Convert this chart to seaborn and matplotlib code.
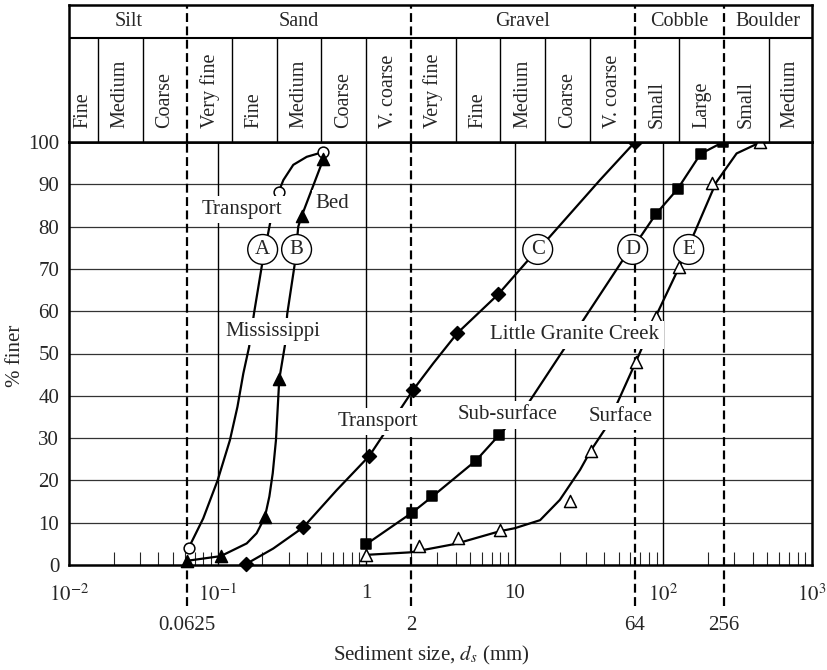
import numpy as np
import pandas as pd
import matplotlib
matplotlib.use("Agg")
import matplotlib.pyplot as plt
from matplotlib.ticker import LogLocator, NullFormatter, FixedLocator
import seaborn as sns

sns.set_style("white")
plt.rcParams['font.family'] = ['Liberation Serif', 'DejaVu Serif']
plt.rcParams['mathtext.fontset'] = 'stix'

# ---------------- data ----------------
# Header classification (Wentworth scale, mm)
cat_edges = [0.01, 0.0625, 2, 64, 256, 1000]
cat_names = ['Silt', 'Sand', 'Gravel', 'Cobble', 'Boulder']
sub_edges = [0.01, 0.0156, 0.03125, 0.0625, 0.125, 0.25, 0.5, 1, 2, 4, 8, 16, 32,
             64, 128, 256, 512, 1000]
sub_names = ['Fine', 'Medium', 'Coarse', 'Very fine', 'Fine', 'Medium', 'Coarse',
             'V. coarse', 'Very fine', 'Fine', 'Medium', 'Coarse', 'V. coarse',
             'Small', 'Large', 'Small', 'Medium']

# (A) Mississippi transport - open circles
a_mark_x = [0.064, 0.257, 0.51]
a_mark_y = [4.1, 88.1, 97.6]
a_curve_x = [0.064, 0.080, 0.100, 0.121, 0.136, 0.149, 0.163, 0.176, 0.198, 0.2255,
             0.257, 0.277, 0.323, 0.398, 0.51]
a_curve_y = [4.1, 11, 20, 29.5, 37.4, 45.3, 51.6, 59.6, 70.5, 80.8,
             88.1, 91, 94.6, 96.5, 97.6]

# (B) Mississippi bed - filled triangles
b_mark_x = [0.0625, 0.105, 0.208, 0.26, 0.368, 0.514]
b_mark_y = [1.0, 2.1, 11.3, 43.9, 82.5, 95.9]
b_curve_x = [0.0625, 0.105, 0.157, 0.183, 0.208, 0.223, 0.235, 0.247, 0.26, 0.284,
             0.294, 0.33, 0.349, 0.368, 0.514]
b_curve_y = [1.0, 2.1, 5.1, 7.5, 11.3, 16.2, 21.7, 29.5, 43.9, 52,
             59.3, 71, 80, 82.5, 95.9]

# (C) Little Granite Creek transport - filled diamonds
c_mark_x = [0.155, 0.377, 1.05, 2.07, 4.1, 7.74, 64.4]
c_mark_y = [0.2, 8.9, 25.8, 41.4, 54.8, 64.0, 100]
c_curve_x = [0.155, 0.237, 0.377, 0.633, 1.05, 2.07, 2.83, 4.1, 7.74, 11.9, 16.8,
             37.4, 64.4]
c_curve_y = [0.2, 3.9, 8.9, 17.7, 25.8, 41.4, 47.7, 54.8, 64.0, 71.5, 77.2,
             91, 100]

# (D) Little Granite Creek sub-surface - filled squares
d_mark_x = [1.0, 2.04, 2.79, 5.48, 7.83, 89.2, 124.7, 178, 253]
d_mark_y = [4.9, 12.4, 16.2, 24.7, 30.7, 83, 88.9, 97.2, 100]
d_curve_x = [1.0, 2.04, 2.79, 5.48, 7.83, 12.3, 21.2, 28.9, 52.4, 71.4, 89.2,
             124.7, 178, 253]
d_curve_y = [4.9, 12.4, 16.2, 24.7, 30.7, 38.2, 50.8, 57.9, 71.7, 78, 83,
             88.9, 97.2, 100]

# (E) Little Granite Creek surface - open triangles
e_mark_x = [1.0, 2.28, 4.17, 7.95, 23.5, 32.4, 65.4, 88.7, 128, 211, 447]
e_mark_y = [2.4, 4.5, 6.5, 8.3, 15.1, 27.0, 48.1, 58.7, 70.5, 90.4, 99.9]
e_curve_x = [1.0, 2.0, 4.0, 7.95, 10, 14.8, 20.1, 27.5, 32.4, 41.5, 65.4, 88.7,
             128, 163, 226, 311, 447]
e_curve_y = [2.4, 3.0, 5.0, 8.0, 8.7, 10.6, 15.4, 22.5, 27.0, 32.7, 48.1, 58.7,
             70.5, 78.8, 90.4, 97.3, 99.9]

# Text labels on the plot
text_labels = ['Transport', 'Bed', 'Mississippi', 'Transport', 'Little Granite Creek',
               'Sub-surface', 'Surface']
text_x = [0.1453, 0.595, 0.235, 1.206, 25.4, 8.91, 51.5]
text_y = [84.1, 85.5, 55.2, 34.0, 54.4, 35.5, 35.1]
circ_labels = ['A', 'B', 'C', 'D', 'E']
circ_x = [0.201, 0.340, 14.26, 62.1, 148]
circ_y = [74.6, 74.6, 74.6, 74.6, 74.6]

major_x = [0.01, 0.1, 1, 10, 100, 1000]
major_lbl = ['$10^{-2}$', '$10^{-1}$', '1', '10', '$10^{2}$', '$10^{3}$']
class_x = [0.0625, 2, 64, 256]
class_lbl = ['0.0625', '2', '64', '256']
y_ticks = list(range(0, 101, 10))

# ---------------- layout ----------------
W, H = 827, 670
L, R, B, T, TOP = 69, 812, 565, 142, 5
fig = plt.figure(figsize=(W / 100, H / 100), dpi=100)
fig.patch.set_facecolor('white')
ax = fig.add_axes([L / W, 1 - B / H, (R - L) / W, (B - T) / H])
ax.set_xscale('log')
hax = fig.add_axes([L / W, 1 - T / H, (R - L) / W, (T - TOP) / H], sharex=ax)

FS = 15
SPW = 1.8
DASH = (0, (4, 2))

# grid lines
for y in y_ticks[1:-1]:
    ax.axhline(y, color='#333333', lw=0.9, zorder=1)
for x in major_x[1:-1]:
    ax.axvline(x, color='black', lw=1.0, zorder=1)
for x in class_x:
    ax.plot([x, x], [-9.7, 100], color='black', lw=1.6, ls=DASH, clip_on=False, zorder=2)

# curves
series = [
    (a_curve_x, a_curve_y, a_mark_x, a_mark_y, 'o', 'white', 60),
    (b_curve_x, b_curve_y, b_mark_x, b_mark_y, '^', 'black', 75),
    (c_curve_x, c_curve_y, c_mark_x, c_mark_y, 'D', 'black', 50),
    (d_curve_x, d_curve_y, d_mark_x, d_mark_y, 's', 'black', 52),
    (e_curve_x, e_curve_y, e_mark_x, e_mark_y, '^', 'white', 75),
]
for cx, cy, mx, my, mk, fc, s in series:
    df = pd.DataFrame({'d': cx, 'pct': cy})
    sns.lineplot(data=df, x='d', y='pct', sort=False, estimator=None, color='black',
                 lw=1.6, ax=ax, zorder=3)
    dm = pd.DataFrame({'d': mx, 'pct': my})
    sns.scatterplot(data=dm, x='d', y='pct', marker=mk, s=s, color=fc, edgecolor='black',
                    linewidth=1.1, ax=ax, zorder=4, clip_on=False)

# text labels
for t, x, y in zip(text_labels, text_x, text_y):
    ax.text(x, y, t, ha='center', va='center', fontsize=FS, zorder=6,
            bbox=dict(boxstyle='square,pad=0.2', fc='white', ec='none'))
for t, x, y in zip(circ_labels, circ_x, circ_y):
    ax.text(x, y, t, ha='center', va='center', fontsize=FS, zorder=6,
            bbox=dict(boxstyle='circle,pad=0.26', fc='white', ec='black', lw=1.0))

ax.set_xlim(0.01, 1000)
ax.set_ylim(0, 100)
ax.set_xlabel('')
ax.set_ylabel('')
ax.xaxis.set_major_locator(FixedLocator(major_x))
ax.set_xticklabels(major_lbl)
ax.xaxis.set_minor_locator(LogLocator(base=10, subs=np.arange(2, 10), numticks=20))
ax.xaxis.set_minor_formatter(NullFormatter())
ax.tick_params(axis='x', which='major', length=0, pad=14, labelsize=FS, bottom=True)
ax.tick_params(axis='x', which='minor', direction='in', length=9.5, width=0.8,
               bottom=True, top=False)
ax.set_yticks(y_ticks)
ax.tick_params(axis='y', length=0, pad=7, labelsize=FS, left=True)
for sp in ax.spines.values():
    sp.set_linewidth(SPW)
    sp.set_color('black')

for x, t in zip(class_x, class_lbl):
    ax.text(x, -14.2, t, ha='center', va='center', fontsize=FS)

fig.text(431 / W, 1 - 655 / H, 'Sediment size, $d_s$ (mm)', ha='center', va='center',
         fontsize=FS)
fig.text(15 / W, 1 - 356 / H, '% finer', ha='center', va='center', rotation=90,
         fontsize=FS)

# header table
hax.set_ylim(0, 1)
hax.set_xlim(0.01, 1000)
MID = 0.761
hax.axhline(MID, color='black', lw=1.5)
for x in sub_edges[1:-1]:
    if x not in class_x:
        hax.plot([x, x], [0, MID], color='black', lw=1.0)
for x in class_x:
    hax.plot([x, x], [0, 1], color='black', lw=1.6, ls=DASH)
for i, name in enumerate(cat_names):
    xc = np.sqrt(cat_edges[i] * cat_edges[i + 1])
    hax.text(xc, (MID + 1) / 2, name, ha='center', va='center', fontsize=14.5)
for i, name in enumerate(sub_names):
    xc = np.sqrt(sub_edges[i] * sub_edges[i + 1])
    hax.text(xc, 0.10, name, ha='center', va='bottom', rotation=90, fontsize=14.5)
hax.tick_params(axis='both', which='both', length=0, labelbottom=False, labelleft=False,
                bottom=False, left=False, top=False)
for sp in hax.spines.values():
    sp.set_linewidth(SPW)
    sp.set_color('black')

fig.savefig('out.png', dpi=100, facecolor='white')
